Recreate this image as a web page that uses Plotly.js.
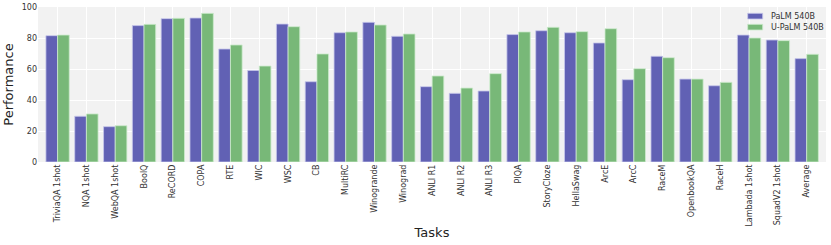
<!DOCTYPE html>
<html><head><meta charset="utf-8">
<script src="https://cdn.plot.ly/plotly-3.0.1.min.js"></script>
<style>html,body{margin:0;padding:0;background:#fff}#chart{width:831px;height:245px}</style>
</head><body><div id="chart"></div>
<script>
const tasks = ["TriviaQA 1shot","NQA 1shot","WebQA 1shot","BoolQ","ReCORD","COPA","RTE","WIC","WSC","CB","MultiRC","Winogrande","Winograd","ANLI R1","ANLI R2","ANLI R3","PIQA","StoryCloze","HellaSwag","ArcE","ArcC","RaceM","OpenbookQA","RaceH","Lambada 1shot","SquadV2 1shot","Average"];
const palm = [81.5,29.5,22.8,88.0,92.5,92.9,72.9,59.1,89.0,51.8,83.4,90.1,81.1,48.6,44.3,45.8,82.2,84.7,83.4,76.8,53.1,68.2,53.5,49.2,81.9,78.7,66.7];
const upalm = [81.9,31.0,23.4,88.8,92.7,95.9,75.5,61.9,87.3,69.7,83.9,88.4,82.6,55.5,47.7,57.0,83.9,86.9,84.1,86.0,60.2,67.3,53.5,51.4,80.0,78.3,69.5];
const seriesNames = ["PaLM 540B","U-PaLM 540B"];
const colors = ["rgb(97,97,180)","rgb(120,184,120)"];
const edges = ["rgba(200,200,235,0.8)","rgba(205,235,205,0.8)"];

const font = "DejaVu Sans, sans-serif";
const data = [
  {type:"bar", name:seriesNames[0], x:tasks, y:palm,
   marker:{color:colors[0], line:{color:edges[0], width:1}}},
  {type:"bar", name:seriesNames[1], x:tasks, y:upalm,
   marker:{color:colors[1], line:{color:edges[1], width:1}}}
];
// legend drawn in plot-domain coordinates (plot area: 788 x 155 px)
const W = 788, H = 155;
const shapes = [], annotations = [];
seriesNames.forEach((n,i)=>{
  const top = 13.3 + i*11, bot = top + 5.7;
  shapes.push({type:"rect", xref:"paper", yref:"paper",
    x0:(747.7-38)/W, x1:(762.7-38)/W, y0:(162-bot)/H, y1:(162-top)/H,
    fillcolor:colors[i], line:{color:edges[i], width:1}});
  annotations.push({xref:"paper", yref:"paper", x:(768.5-38)/W, y:(162-(top+2.9))/H,
    xanchor:"left", yanchor:"middle", text:n, showarrow:false,
    font:{size:8, color:"#333", family:font}});
});
const layout = {
  width:831, height:245,
  margin:{l:38, r:5, t:7, b:83},
  paper_bgcolor:"#ffffff", plot_bgcolor:"#f2f2f2",
  barmode:"group", bargap:0.19, bargroupgap:0,
  font:{family:font, color:"#333", size:8},
  xaxis:{type:"category", range:[-0.68,26.67], tickangle:-90, tickfont:{size:8, color:"#333"},
         showgrid:true, gridcolor:"#ffffff", gridwidth:1, ticks:"", zeroline:false,
         title:{text:"Tasks", font:{size:13, color:"#222"}, standoff:2}},
  yaxis:{range:[0,100], dtick:20, tickfont:{size:8, color:"#333"}, showgrid:true, gridcolor:"#ffffff",
         gridwidth:1, ticks:"", zeroline:false,
         title:{text:"Performance", font:{size:13, color:"#222"}, standoff:5}},
  shapes:shapes, annotations:annotations,
  showlegend:false
};
Plotly.newPlot("chart", data, layout, {displayModeBar:false, staticPlot:true});
</script></body></html>
